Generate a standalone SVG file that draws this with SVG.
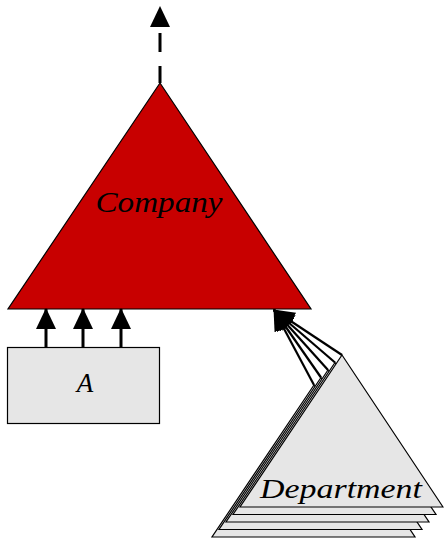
<svg xmlns="http://www.w3.org/2000/svg" width="444" height="538" viewBox="0 0 444 538">
  <style>
    .tri-red { fill: #c80000; stroke: #000; stroke-width: 1.2; stroke-linejoin: miter; }
    .gray { fill: #e6e6e6; stroke: #000; stroke-width: 1.2; }
    .label { font-family: "Liberation Serif", "DejaVu Serif", serif; font-style: italic; fill: #000; }
    .edge { stroke: #000; stroke-width: 3; fill: none; }
    .edge-thin { stroke: #000; stroke-width: 2.2; fill: none; }
  </style>
  <defs>
    <marker id="head" markerUnits="userSpaceOnUse" viewBox="0 0 21 20" refX="20" refY="10" markerWidth="21" markerHeight="20" orient="auto">
      <path d="M0,0 L21,10 L0,20 Z" fill="#000"/>
    </marker>
  </defs>

  <!-- Company node -->
  <g id="company">
    <polygon class="tri-red" points="160,83 311,309 8,309"/>
    <text class="label" x="159" y="212" font-size="30" text-anchor="middle" textLength="127" lengthAdjust="spacingAndGlyphs">Company</text>
  </g>

  <!-- A node -->
  <g id="a">
    <rect class="gray" x="7.5" y="347.5" width="152" height="76"/>
    <text class="label" x="85" y="392" font-size="27" text-anchor="middle">A</text>
  </g>

  <!-- Department node: stacked copies -->
  <g id="department">
    <polygon class="gray" points="314,385 415,537 212,537"/>
    <polygon class="gray" points="321,377.5 422,529.5 219,529.5"/>
    <polygon class="gray" points="328,370 429,522 226,522"/>
    <polygon class="gray" points="335,362.5 436,514.5 233,514.5"/>
    <polygon class="gray" points="342,355 443,507 240,507"/>
    <text class="label" x="341" y="498" font-size="27" text-anchor="middle" textLength="162" lengthAdjust="spacingAndGlyphs">Department</text>
  </g>

  <!-- Connectors -->
  <g id="connectors">
    <path class="edge" d="M160,83 V7" stroke-dasharray="17 14 19 100" marker-end="url(#head)"/>
    <path class="edge" d="M46,347 V309" marker-end="url(#head)"/>
    <path class="edge" d="M83,347 V309" marker-end="url(#head)"/>
    <path class="edge" d="M121,347 V309" marker-end="url(#head)"/>
    <path class="edge-thin" d="M342,355 L274,310" marker-end="url(#head)"/>
    <path class="edge-thin" d="M335,362.5 L274,310" marker-end="url(#head)"/>
    <path class="edge-thin" d="M328,370 L274,310" marker-end="url(#head)"/>
    <path class="edge-thin" d="M321,377.5 L274,310" marker-end="url(#head)"/>
    <path class="edge-thin" d="M314,385 L274,310" marker-end="url(#head)"/>
  </g>
</svg>
